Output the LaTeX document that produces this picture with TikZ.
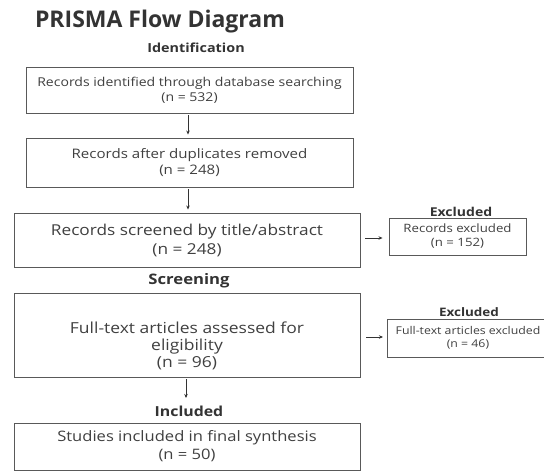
\documentclass[tikz,border=0pt]{standalone}
\usepackage{fontspec}
\setmainfont{Open Sans}
\newfontfamily\wideface[FakeStretch=1.15]{Open Sans}
\usetikzlibrary{arrows.meta}
\newcommand\fsz[2]{\fontsize{#1}{#2}\selectfont}
\begin{document}
\begin{tikzpicture}[x=1pt,y=-1pt,
  box/.style={draw=black!65, line width=0.9pt, rectangle, align=center, inner sep=2pt, text=black!75},
  stage/.style={text=black!80, inner sep=0pt},
  flow/.style={draw=black!80, line width=0.8pt, -{Stealth[length=4pt,width=3.5pt]}}
]
\useasboundingbox[fill=white] (0,0) rectangle (544,474);

% heading and stage labels
\node[stage, font=\fsz{23}{26}\bfseries] (title) at (160,22) {PRISMA Flow Diagram};
\node[stage, font=\wideface\fsz{12.5}{14}\bfseries] (ident) at (196,48) {Identification};
\node[stage, font=\wideface\fsz{14.5}{16}\bfseries] (screen) at (189,281) {Screening};
\node[stage, font=\wideface\fsz{13.8}{16}\bfseries] (incl) at (189,411) {Included};

% main column
\node[box, minimum width=327pt, minimum height=46pt, font=\wideface\fsz{12.2}{15}] (b1) at (189.5,90)
  {Records identified through database searching\\(n = 532)};
\node[box, minimum width=327pt, minimum height=49pt, font=\wideface\fsz{13.1}{15.5}] (b2) at (189.5,162.5)
  {Records after duplicates removed\\(n = 248)};
\node[box, minimum width=346pt, minimum height=54pt, font=\wideface\fsz{15}{19}] (b3) at (187,240)
  {Records screened by title/abstract\\(n = 248)};
\node[box, minimum width=346pt, minimum height=84pt] (b4) at (187,335) {};
\node[align=center, text=black!75, font=\wideface\fsz{15.2}{17}, inner sep=0pt] (b4t) at (187,346)
  {Full-text articles assessed for\\eligibility\\(n = 96)};
\node[box, minimum width=346pt, minimum height=47pt, font=\wideface\fsz{14.4}{18}] (b5) at (187,446.5)
  {Studies included in final synthesis\\(n = 50)};

% exclusion column
\node[stage, font=\wideface\fsz{12.2}{14}\bfseries] (ex1) at (461,212) {Excluded};
\node[box, minimum width=137pt, minimum height=37pt, font=\wideface\fsz{11.5}{14}] (r1) at (457.5,236.5)
  {Records excluded\\(n = 152)};
\node[stage, font=\wideface\fsz{11.7}{13}\bfseries] (ex2) at (469,312) {Excluded};
\node[box, minimum width=166pt, minimum height=38pt, anchor=west] (r2) at (387,338) {};
\node[align=center, text=black!75, font=\wideface\fsz{10.7}{13}, inner sep=0pt] (r2t) at (468,338)
  {Full-text articles excluded\\(n = 46)};

% connectors
\draw[flow, shorten <=2pt, shorten >=3pt] (b1.south -| 188,0) -- (b2.north -| 188,0);
\draw[flow, shorten <=2pt, shorten >=3pt] (b2.south -| 188,0) -- (b3.north -| 188,0);
\coordinate (a5) at (186,398);
\draw[flow, shorten <=2pt] (b4.south -| a5) -- (a5);
\coordinate (e1) at (b3.east |- 0,238);
\draw[flow, shorten <=5pt, shorten >=6pt] (e1) -- (r1.west |- e1);
\coordinate (e2) at (b4.east |- 0,337);
\draw[flow, shorten <=6pt, shorten >=4pt] (e2) -- (r2.west |- e2);
\end{tikzpicture}
\end{document}
